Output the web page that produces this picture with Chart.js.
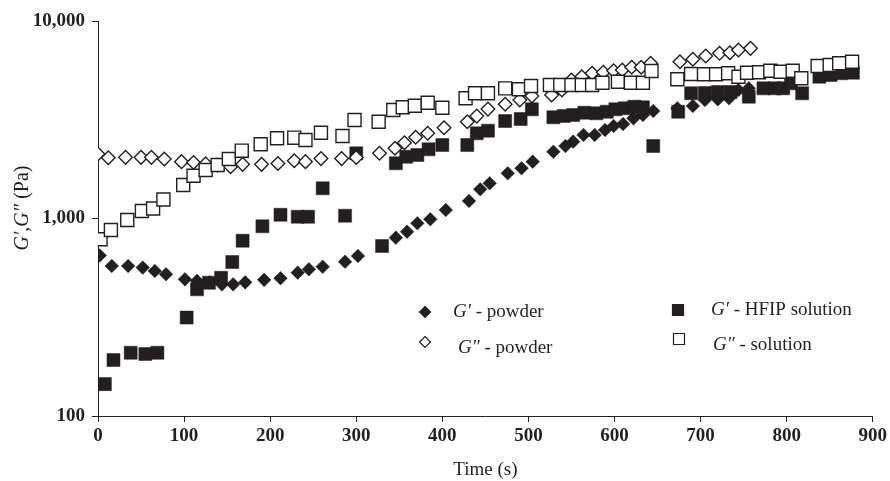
<!DOCTYPE html>
<html><head><meta charset="utf-8">
<script src="https://cdn.jsdelivr.net/npm/chart.js@4.4.1/dist/chart.umd.min.js"></script>
<style>html,body{margin:0;padding:0;background:#fff}#wrap{width:890px;height:481px;position:relative}</style>
</head><body><div id="wrap"><canvas id="c" width="890" height="481"></canvas></div>
<script>
// ---- data ----
const seriesLabels = ["G′ - powder", "G″ - powder", "G′ - HFIP solution", "G″ - solution"];

const timePowderGp = [2,16,35,52,66,79,101,115,130,144,157,171,193,212,232,245,261,287,302,346,359,371,386,404,431,444,455,476,492,505,529,543,552,564,577,589,599,610,622,633,645,673,691,705,720,733,744,756];
const valPowderGp  = [650,575,575,564,542,522,492,483,475,464,464,475,489,498,532,553,570,604,646,800,857,946,991,1104,1227,1406,1507,1694,1795,1940,2178,2328,2449,2647,2647,2806,2939,3009,3215,3342,3501,3614,3714,3981,4012,4061,4473,4560];

const timePowderGpp = [0,12,32,50,62,77,97,111,125,139,154,168,190,209,228,241,259,283,300,327,345,356,369,383,402,429,440,453,473,490,504,527,539,550,562,574,587,599,609,620,631,642,676,691,706,722,734,744,758];
const valPowderGpp  = [2120,2030,2040,2040,2040,2000,1940,1920,1890,1860,1830,1880,1880,1900,1960,1940,2010,2010,2035,2140,2270,2420,2580,2700,2880,3090,3300,3580,3790,3980,4170,4220,4470,5030,5220,5440,5500,5600,5650,5830,5830,6110,6220,6400,6650,6860,6910,7130,7270];

const timeSolGp = [8,18,38,55,69,103,115,129,143,156,168,191,212,232,244,261,287,300,330,346,358,371,384,400,429,440,453,473,491,504,529,541,552,565,579,591,601,612,623,633,645,674,689,705,720,735,756,773,786,796,805,818,838,851,863,877];
const valSolGp  = [145,192,209,206,209,315,438,473,501,602,772,913,1044,1021,1021,1422,1033,2138,726,1904,2055,2097,2240,2355,2355,2699,2783,3117,3190,3572,3254,3304,3343,3433,3409,3473,3572,3614,3681,3656,2328,3473,4305,4318,4370,4370,4137,4560,4560,4560,4837,4305,5224,5327,5435,5473];

const timeSolGpp = [3,15,34,51,64,76,99,111,125,139,152,167,189,208,228,241,259,284,298,326,343,354,368,383,400,427,438,453,473,489,503,525,537,550,562,574,586,604,619,633,643,673,689,704,718,732,744,754,768,781,793,807,817,836,850,861,876];
const valSolGpp  = [785,874,983,1091,1124,1248,1478,1647,1760,1866,2000,2205,2375,2547,2566,2496,2718,2617,3153,3090,3542,3656,3725,3857,3640,4061,4305,4305,4560,4509,4688,4742,4742,4742,4742,4742,4870,4927,4870,4870,5580,5067,5391,5372,5372,5435,5224,5473,5499,5602,5537,5602,5128,5918,5987,6107,6223];

const xTickValues = [0,100,200,300,400,500,600,700,800,900];
const yTickValues = [100,1000,10000];

// ---- chart ----
const INK = '#231f20';
const SERIF = '"Liberation Serif","Times New Roman",serif';
function pts(t, v) { return t.map((x, i) => ({x: x, y: v[i]})); }

const datasets = [
  {label: seriesLabels[0], data: pts(timePowderGp, valPowderGp), pointStyle: 'rectRot', pointRadius: 6.8,
   backgroundColor: INK, borderColor: INK, borderWidth: 0.5, order: 4},
  {label: seriesLabels[1], data: pts(timePowderGpp, valPowderGpp), pointStyle: 'rectRot', pointRadius: 6.8,
   backgroundColor: '#fff', borderColor: INK, borderWidth: 1.4, order: 2},
  {label: seriesLabels[2], data: pts(timeSolGp, valSolGp), pointStyle: 'rect', pointRadius: 9.2,
   backgroundColor: INK, borderColor: INK, borderWidth: 0.5, order: 3},
  {label: seriesLabels[3], data: pts(timeSolGpp, valSolGpp), pointStyle: 'rect', pointRadius: 9.2,
   backgroundColor: '#fff', borderColor: INK, borderWidth: 1.4, order: 1}
];

function drawParts(ctx, parts, x, y, size) {
  let cx = x;
  parts.forEach(p => {
    ctx.font = (p.it ? 'italic ' : '') + size + 'px ' + SERIF;
    ctx.fillText(p.t, cx, y);
    cx += ctx.measureText(p.t).width;
  });
  return cx;
}
function partsWidth(ctx, parts, size) {
  let w = 0;
  parts.forEach(p => { ctx.font = (p.it ? 'italic ' : '') + size + 'px ' + SERIF; w += ctx.measureText(p.t).width; });
  return w;
}
function splitLabel(s) { return [{t: s.slice(0, 2), it: true}, {t: s.slice(2), it: false}]; }

const annot = {
  id: 'annot',
  afterDraw(chart) {
    const ctx = chart.ctx;
    ctx.save();
    ctx.fillStyle = INK; ctx.strokeStyle = INK; ctx.textBaseline = 'middle'; ctx.textAlign = 'left';
    // legend
    const items = [
      {ds: 0, mx: 425, my: 312, tx: 453},
      {ds: 1, mx: 425, my: 342, tx: 458},
      {ds: 2, mx: 678, my: 310, tx: 711},
      {ds: 3, mx: 679, my: 339, tx: 713}
    ];
    items.forEach(it => {
      const d = datasets[it.ds];
      ctx.beginPath();
      if (d.pointStyle === 'rectRot') {
        const r = 5.5;
        ctx.moveTo(it.mx, it.my - r); ctx.lineTo(it.mx + r, it.my); ctx.lineTo(it.mx, it.my + r); ctx.lineTo(it.mx - r, it.my); ctx.closePath();
      } else {
        const h = 5.5;
        ctx.rect(it.mx - h, it.my - h, 2 * h, 2 * h);
      }
      ctx.fillStyle = d.backgroundColor; ctx.fill();
      ctx.lineWidth = 1.2; ctx.strokeStyle = INK; ctx.stroke();
      ctx.fillStyle = INK;
      const ty = it.ds === 1 || it.ds === 3 ? it.my + 6 : it.my;
      drawParts(ctx, splitLabel(d.label), it.tx, ty, 19);
    });
    // y axis title
    const yt = [{t: 'G′,G″', it: true}, {t: ' (Pa)', it: false}];
    ctx.translate(23, 208);
    ctx.rotate(-Math.PI / 2);
    const w = partsWidth(ctx, yt, 20);
    drawParts(ctx, yt, -w / 2, 0, 20);
    ctx.restore();
  }
};

new Chart(document.getElementById('c'), {
  type: 'scatter',
  data: {datasets: datasets},
  options: {
    responsive: false, animation: false, devicePixelRatio: 1,
    layout: {padding: {left: 0, right: 15, top: 21, bottom: 0}},
    plugins: {legend: {display: false}, tooltip: {enabled: false}},
    scales: {
      x: {
        type: 'linear', min: 0, max: 900,
        afterBuildTicks: s => { s.ticks = xTickValues.map(v => ({value: v})); },
        afterFit: s => { s.height = 65; },
        ticks: {autoSkip: false, maxRotation: 0, padding: 3, color: INK, font: {family: SERIF, size: 19, weight: 'bold'}},
        grid: {drawOnChartArea: false, drawTicks: true, tickLength: 6, color: INK, lineWidth: 1},
        border: {display: true, color: INK, width: 1},
        title: {display: true, text: 'Time (s)', color: INK, font: {family: SERIF, size: 19}, padding: {top: 4, bottom: 0}}
      },
      y: {
        type: 'logarithmic', min: 100, max: 10000,
        afterBuildTicks: s => { s.ticks = yTickValues.map(v => ({value: v})); },
        afterFit: s => { s.width = 98; },
        ticks: {autoSkip: false, padding: 7, color: INK, font: {family: SERIF, size: 19, weight: 'bold'},
                callback: v => Number(v).toLocaleString('en-US')},
        grid: {drawOnChartArea: false, drawTicks: true, tickLength: 6, color: INK, lineWidth: 1},
        border: {display: true, color: INK, width: 1}
      }
    }
  },
  plugins: [annot]
});
</script></body></html>
